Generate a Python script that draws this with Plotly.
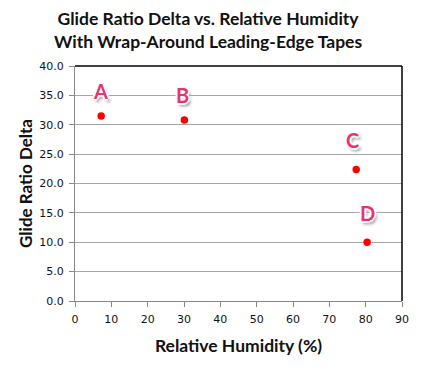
import plotly.graph_objects as go

labels = ["A", "B", "C", "D"]
humidity = [7.2, 30.1, 77.4, 80.4]
glide_delta = [31.5, 30.8, 22.4, 10.0]
label_x = [6.9, 29.5, 76.5, 80.5]
label_y = [35.7, 35.1, 27.4, 15.0]
x_ticks = list(range(0, 91, 10))
y_ticks = [0, 5, 10, 15, 20, 25, 30, 35, 40]

TITLE_FONT = "Lato, Arial"
TICK_FONT = "DejaVu Sans, Verdana"

fig = go.Figure()
fig.add_trace(go.Scatter(
    x=humidity, y=glide_delta, mode="markers",
    marker=dict(color="#ff0000", size=7.5), showlegend=False, hoverinfo="skip"))

for lx, ly, t in zip(label_x, label_y, labels):
    fig.add_annotation(
        x=lx, y=ly, text="<b>" + t + "</b>", showarrow=False,
        font=dict(family=TITLE_FONT, size=20, color="#e8336d",
                  shadow="1px 0 0 #fff, -1px 0 0 #fff, 0 1px 0 #fff, 0 -1px 0 #fff, 2px 0 1px #fff, -2px 0 1px #fff, 0 2px 1px #fff, 0 -2px 1px #fff, 2px 3px 3px #888"))

# Title placed as an annotation for precise control
fig.add_annotation(
    xref="paper", yref="paper", x=0.407, y=1.153, xanchor="center", yanchor="middle",
    text="<b>Glide Ratio Delta vs. Relative Humidity<br>With Wrap-Around Leading-Edge Tapes</b>",
    showarrow=False, font=dict(family=TITLE_FONT, size=17.5, color="#111"))

fig.update_layout(
    width=413, height=362,
    margin=dict(l=67, r=19, t=58, b=69),
    paper_bgcolor="white", plot_bgcolor="white",
    xaxis=dict(range=[0, 90], tickvals=x_ticks, showgrid=False,
               showline=True, linecolor="#888", linewidth=1,
               ticks="outside", ticklen=5, tickcolor="#888", ticklabelstandoff=3,
               tickfont=dict(family=TICK_FONT, size=11, color="#111"),
               title=dict(text="<b>Relative Humidity (%)</b>", standoff=14,
                          font=dict(family=TITLE_FONT, size=17.5, color="#111")),
               zeroline=False),
    yaxis=dict(range=[0, 40], tickvals=y_ticks, tickformat=".1f",
               showgrid=True, gridcolor="#a6a6a6", gridwidth=1,
               showline=True, linecolor="#888", linewidth=1,
               ticks="outside", ticklen=5, tickcolor="#888", ticklabelstandoff=3,
               tickfont=dict(family=TICK_FONT, size=11, color="#111"),
               title=dict(text="<b>Glide Ratio Delta</b>", standoff=2,
                          font=dict(family=TITLE_FONT, size=17, color="#111")),
               zeroline=False),
)
fig.add_shape(type="line", xref="paper", yref="paper", x0=0, x1=1, y0=1, y1=1,
              line=dict(color="#000", width=1.5))
fig.add_shape(type="line", xref="paper", yref="paper", x0=1, x1=1, y0=0, y1=1,
              line=dict(color="#000", width=1.5))

fig.write_html("out.html")
